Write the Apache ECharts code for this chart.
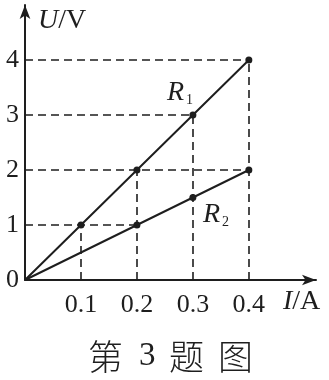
<!DOCTYPE html>
<html><head><meta charset="utf-8">
<script src="https://cdn.jsdelivr.net/npm/echarts@6/dist/echarts.min.js"></script>
<style>html,body{margin:0;padding:0;background:#fff}#c{width:329px;height:380px}</style>
</head><body><div id="c"></div>
<script>
const xTickLabels = [0.1, 0.2, 0.3, 0.4];
const yTickLabels = [0, 1, 2, 3, 4];
const r1I = [0, 0.1, 0.2, 0.3, 0.4];
const r1U = [0, 1, 2, 3, 4];
const r2I = [0, 0.2, 0.3, 0.4];
const r2U = [0, 1, 1.5, 2];
const hGuides = [[0.4, 4], [0.3, 3], [0.4, 2], [0.2, 1]];
const vGuides = [[0.1, 1], [0.2, 2], [0.3, 3], [0.4, 4]];

const ink = '#1e1e1e';
const serif = '"Liberation Serif","Times New Roman",serif';
const cjk = '"Noto Sans CJK SC",sans-serif';
const chart = echarts.init(document.getElementById('c'));
const pts = (xs, ys) => xs.map((x, i) => [x, ys[i]]);
const guideLines = hGuides.map(p => [{coord: [0, p[1]]}, {coord: [p[0], p[1]]}])
  .concat(vGuides.map(p => [{coord: [p[0], 0]}, {coord: [p[0], p[1]]}]));

chart.setOption({
  animation: false,
  grid: {left: 25, top: 5, width: 291, height: 275, containLabel: false},
  xAxis: {
    type: 'value', min: 0, max: 0.52, interval: 0.1,
    axisLine: {show: true, lineStyle: {color: ink, width: 2}, symbol: ['none', 'arrow'], symbolSize: [8, 14]},
    axisTick: {show: false}, splitLine: {show: false},
    axisLabel: {margin: 12, color: ink, fontFamily: serif, fontSize: 26,
      formatter: v => xTickLabels.some(t => Math.abs(t - v) < 1e-9) ? String(+v.toFixed(1)) : ''}
  },
  yAxis: {
    type: 'value', min: 0, max: 5, interval: 1,
    axisLine: {show: true, lineStyle: {color: ink, width: 2}, symbol: ['none', 'arrow'], symbolSize: [8, 14]},
    axisTick: {show: false}, splitLine: {show: false},
    axisLabel: {margin: 6, color: ink, fontFamily: serif, fontSize: 26,
      formatter: v => yTickLabels.includes(v) ? String(v) : ''}
  },
  series: [
    {type: 'line', data: [], silent: true,
     markLine: {silent: true, symbol: ['none', 'none'], label: {show: false},
       lineStyle: {color: ink, type: [8, 5], width: 1.6}, data: guideLines}},
    {type: 'line', data: pts(r1I, r1U), lineStyle: {color: ink, width: 2},
     symbol: 'circle', symbolSize: (v) => v[0] === 0 ? 0 : 7, itemStyle: {color: ink}, z: 3},
    {type: 'line', data: pts(r2I, r2U), lineStyle: {color: ink, width: 2},
     symbol: 'circle', symbolSize: (v) => v[0] === 0 ? 0 : 7, itemStyle: {color: ink}, z: 3}
  ],
  graphic: [
    {type: 'text', left: 38, top: 7, style: {text: '{i|U}/V', fill: ink, font: '28px ' + serif,
      rich: {i: {fontStyle: 'italic', fontSize: 28, fontFamily: serif}}}},
    {type: 'text', left: 283, top: 288, style: {text: '{i|I}/A', fill: ink, font: '28px ' + serif,
      rich: {i: {fontStyle: 'italic', fontSize: 28, fontFamily: serif}}}},
    {type: 'text', left: 167, top: 79, style: {text: 'R', fill: ink, font: 'italic 28px ' + serif}},
    {type: 'text', left: 186, top: 93, style: {text: '1', fill: ink, font: '14px ' + serif}},
    {type: 'text', left: 203, top: 201, style: {text: 'R', fill: ink, font: 'italic 28px ' + serif}},
    {type: 'text', left: 222, top: 215, style: {text: '2', fill: ink, font: '14px ' + serif}},
    {type: 'text', left: 88, top: 339, style: {text: '第', fill: ink, font: '300 35px ' + cjk}},
    {type: 'text', left: 139, top: 340, style: {text: '3', fill: ink, font: '33px ' + serif}},
    {type: 'text', left: 169, top: 339, style: {text: '题', fill: ink, font: '300 35px ' + cjk}},
    {type: 'text', left: 218, top: 339, style: {text: '图', fill: ink, font: '300 35px ' + cjk}}
  ]
});
</script></body></html>
